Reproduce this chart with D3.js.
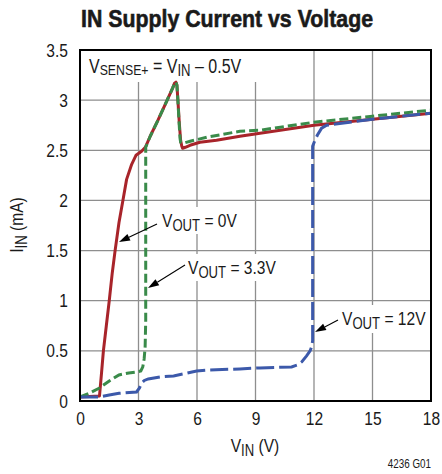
<!DOCTYPE html>
<html><head><meta charset="utf-8">
<script src="https://cdn.jsdelivr.net/npm/d3@7"></script>
<style>
body{margin:0;background:#fff}
svg{display:block}
text{font-family:'Liberation Sans',Arial,sans-serif;fill:#1a1a1a}
</style>
</head><body>
<svg id="c" width="442" height="474"></svg>
<script>
// ---- data ----
const xTicks = [0, 3, 6, 9, 12, 15, 18];
const xTickLabels = ["0", "3", "6", "9", "12", "15", "18"];
const yTicks = [0, 0.5, 1, 1.5, 2, 2.5, 3, 3.5];
const yTickLabels = ["0", "0.5", "1", "1.5", "2", "2.5", "3", "3.5"];

// VOUT = 0V
const vinOut0 = [0, 1.0, 1.1, 1.2, 1.35, 1.5, 1.65, 1.8, 2.0, 2.2, 2.39, 2.65, 2.87, 3.16, 3.35, 3.6, 4.0, 4.4, 4.75, 4.85, 4.92, 4.97, 5.02, 5.1, 5.16, 5.22, 5.26, 5.4, 5.64, 6.15, 7.0, 8.2, 9.23, 12, 15, 18];
const iinOut0 = [0.04, 0.05, 0.27, 0.5, 0.75, 1.0, 1.27, 1.5, 1.78, 2.0, 2.21, 2.36, 2.45, 2.49, 2.53, 2.64, 2.80, 2.97, 3.12, 3.17, 3.18, 3.15, 3.0, 2.75, 2.6, 2.54, 2.52, 2.53, 2.55, 2.58, 2.60, 2.64, 2.67, 2.75, 2.81, 2.87];

// VOUT = 3.3V
const vinOut33 = [0, 0.5, 1.0, 1.5, 2.0, 2.5, 2.9, 3.12, 3.22, 3.29, 3.34, 3.37, 3.37, 3.6, 4.0, 4.4, 4.75, 4.85, 4.92, 4.97, 5.02, 5.08, 5.13, 5.16, 5.3, 5.65, 6.5, 8.2, 9.23, 12, 15, 18];
const iinOut33 = [0.04, 0.08, 0.13, 0.2, 0.26, 0.28, 0.29, 0.30, 0.34, 0.42, 0.54, 0.8, 2.53, 2.64, 2.80, 2.97, 3.12, 3.17, 3.18, 3.15, 3.0, 2.78, 2.62, 2.58, 2.57, 2.59, 2.63, 2.69, 2.70, 2.78, 2.84, 2.90];

// VOUT = 12V
const vinOut12 = [0, 1.0, 1.5, 2.0, 2.9, 3.05, 3.16, 3.3, 3.5, 4.1, 4.8, 5.3, 5.98, 6.67, 8.2, 9.23, 10.85, 11.15, 11.37, 11.62, 11.8, 11.88, 11.93, 11.93, 12.05, 12.17, 12.39, 12.65, 15, 18];
const iinOut12 = [0.04, 0.04, 0.06, 0.077, 0.09, 0.13, 0.18, 0.205, 0.22, 0.24, 0.25, 0.27, 0.30, 0.31, 0.32, 0.33, 0.34, 0.36, 0.39, 0.45, 0.5, 0.54, 0.6, 2.54, 2.6, 2.65, 2.72, 2.75, 2.81, 2.87];

// ---- chart ----
const SX = 0.82; // narrow-face horizontal scale
const svg = d3.select("#c");
const L = 80, R = 431, T = 50, B = 401;
const x = d3.scaleLinear().domain([0, 18]).range([L, R]);
const y = d3.scaleLinear().domain([0, 3.5]).range([B, T]);

function ntext(xp, yp, size, anchor, rot) {
  return svg.append("text")
    .attr("transform", `translate(${xp},${yp})` + (rot ? ` rotate(${rot})` : "") + ` scale(${SX},1)`)
    .attr("font-size", size).attr("text-anchor", anchor || "start");
}

// title
svg.append("text").attr("x", 227).attr("y", 27).attr("text-anchor", "middle")
  .attr("font-size", 24).attr("font-weight", "bold")
  .attr("stroke", "#1a1a1a").attr("stroke-width", 0.6)
  .attr("textLength", 292).attr("lengthAdjust", "spacingAndGlyphs")
  .text("IN Supply Current vs Voltage");

// grid
const grid = svg.append("g").attr("stroke", "#8e8e8e").attr("stroke-width", 1.3);
grid.selectAll("line.v").data(xTicks.slice(1, -1)).enter().append("line")
  .attr("x1", d => x(d)).attr("x2", d => x(d)).attr("y1", T).attr("y2", B);
grid.selectAll("line.h").data(yTicks.slice(1, -1)).enter().append("line")
  .attr("y1", d => y(d)).attr("y2", d => y(d)).attr("x1", L).attr("x2", R);

// axes (labels only)
const xAxis = d3.axisBottom(x).tickValues(xTicks).tickFormat((d, i) => xTickLabels[i]).tickSize(0).tickPadding(11);
const gx = svg.append("g").attr("transform", `translate(0,${B})`).call(xAxis);
gx.select(".domain").remove();
gx.selectAll("text").attr("font-size", 19).attr("font-family", null).style("fill", "#1a1a1a")
  .attr("transform", `scale(${SX},1)`);

const yAxis = d3.axisLeft(y).tickValues(yTicks).tickFormat((d, i) => yTickLabels[i]).tickSize(0).tickPadding(12);
const gy = svg.append("g").attr("transform", `translate(${L},0)`).call(yAxis);
gy.select(".domain").remove();
gy.selectAll("text").attr("font-size", 19).attr("font-family", null).style("fill", "#1a1a1a")
  .attr("x", -12 / SX).attr("transform", `scale(${SX},1)`);

// white boxes behind annotations
const boxes = [
  [81, 51, 180, 31],
  [157, 207, 86, 27],
  [184, 254, 98, 27],
  [337, 305, 93, 28]
];
svg.append("g").selectAll("rect").data(boxes).enter().append("rect")
  .attr("x", d => d[0]).attr("y", d => d[1]).attr("width", d => d[2]).attr("height", d => d[3])
  .attr("fill", "#fff");

// curves
const line = d3.line().x(d => x(d[0])).y(d => y(d[1])).curve(d3.curveLinear);
const s0 = vinOut0.map((v, i) => [v, iinOut0[i]]);
const s33 = vinOut33.map((v, i) => [v, iinOut33[i]]);
const s12 = vinOut12.map((v, i) => [v, iinOut12[i]]);

svg.append("path").datum(s0).attr("d", line).attr("fill", "none")
  .attr("stroke", "#a8242a").attr("stroke-width", 3).attr("stroke-linejoin", "round");
svg.append("path").datum(s33).attr("d", line).attr("fill", "none")
  .attr("stroke", "#3a8b4a").attr("stroke-width", 3).attr("stroke-dasharray", "9,4");
svg.append("path").datum(s12).attr("d", line).attr("fill", "none")
  .attr("stroke", "#3c59aa").attr("stroke-width", 3).attr("stroke-dasharray", "18,5");

// frame
svg.append("rect").attr("x", L).attr("y", T).attr("width", R - L).attr("height", B - T)
  .attr("fill", "none").attr("stroke", "#000").attr("stroke-width", 2);

// annotation texts with subscripts
function subText(xp, yp, parts, size) {
  const t = ntext(xp, yp, size, "start");
  parts.forEach(p => {
    const ts = t.append("tspan").text(p[0]);
    if (p[1]) ts.attr("font-size", p[1]);
    if (p[2] !== undefined && p[2] !== null) ts.attr("dy", p[2]);
  });
  return t;
}
subText(89, 73, [["V"], ["SENSE+", 15, 2], [" = V", 19.5, -2], ["IN", 16, 3], [" – 0.5V", 19.5, -3]], 19.5);
subText(162, 227, [["V"], ["OUT", 16, 4], [" = 0V", 19, -4]], 19);
subText(188, 274, [["V"], ["OUT", 16, 4], [" = 3.3V", 19, -4]], 19);
subText(342, 325, [["V"], ["OUT", 16, 4], [" = 12V", 19, -4]], 19);

// arrows
const arrows = [
  [157, 224, 119, 242],
  [185, 265, 148, 288],
  [338, 320, 315, 332]
];
arrows.forEach(a => {
  const [x1, y1, x2, y2] = a;
  const dx = x2 - x1, dy = y2 - y1, len = Math.hypot(dx, dy);
  const ux = dx / len, uy = dy / len;
  const hl = 11, hw = 3.6;
  const bx = x2 - ux * hl, by = y2 - uy * hl;
  svg.append("line").attr("x1", x1).attr("y1", y1).attr("x2", bx).attr("y2", by)
    .attr("stroke", "#000").attr("stroke-width", 1.1);
  svg.append("path").attr("d", `M${x2},${y2}L${bx - uy * hw},${by + ux * hw}L${bx + uy * hw},${by - ux * hw}Z`)
    .attr("fill", "#000");
});

// axis titles
const yt = svg.append("text").attr("transform", `translate(23,225) rotate(-90) scale(${SX},1)`)
  .attr("text-anchor", "middle").attr("font-size", 19);
yt.append("tspan").text("I");
yt.append("tspan").text("IN").attr("font-size", 16).attr("dy", 4);
yt.append("tspan").text(" (mA)").attr("font-size", 19).attr("dy", -4);

const xt = ntext(255, 452, 19, "middle");
xt.append("tspan").text("V");
xt.append("tspan").text("IN").attr("font-size", 16).attr("dy", 4);
xt.append("tspan").text(" (V)").attr("font-size", 19).attr("dy", -4);

ntext(431, 468, 12, "end").text("4236 G01");
</script>
</body></html>
